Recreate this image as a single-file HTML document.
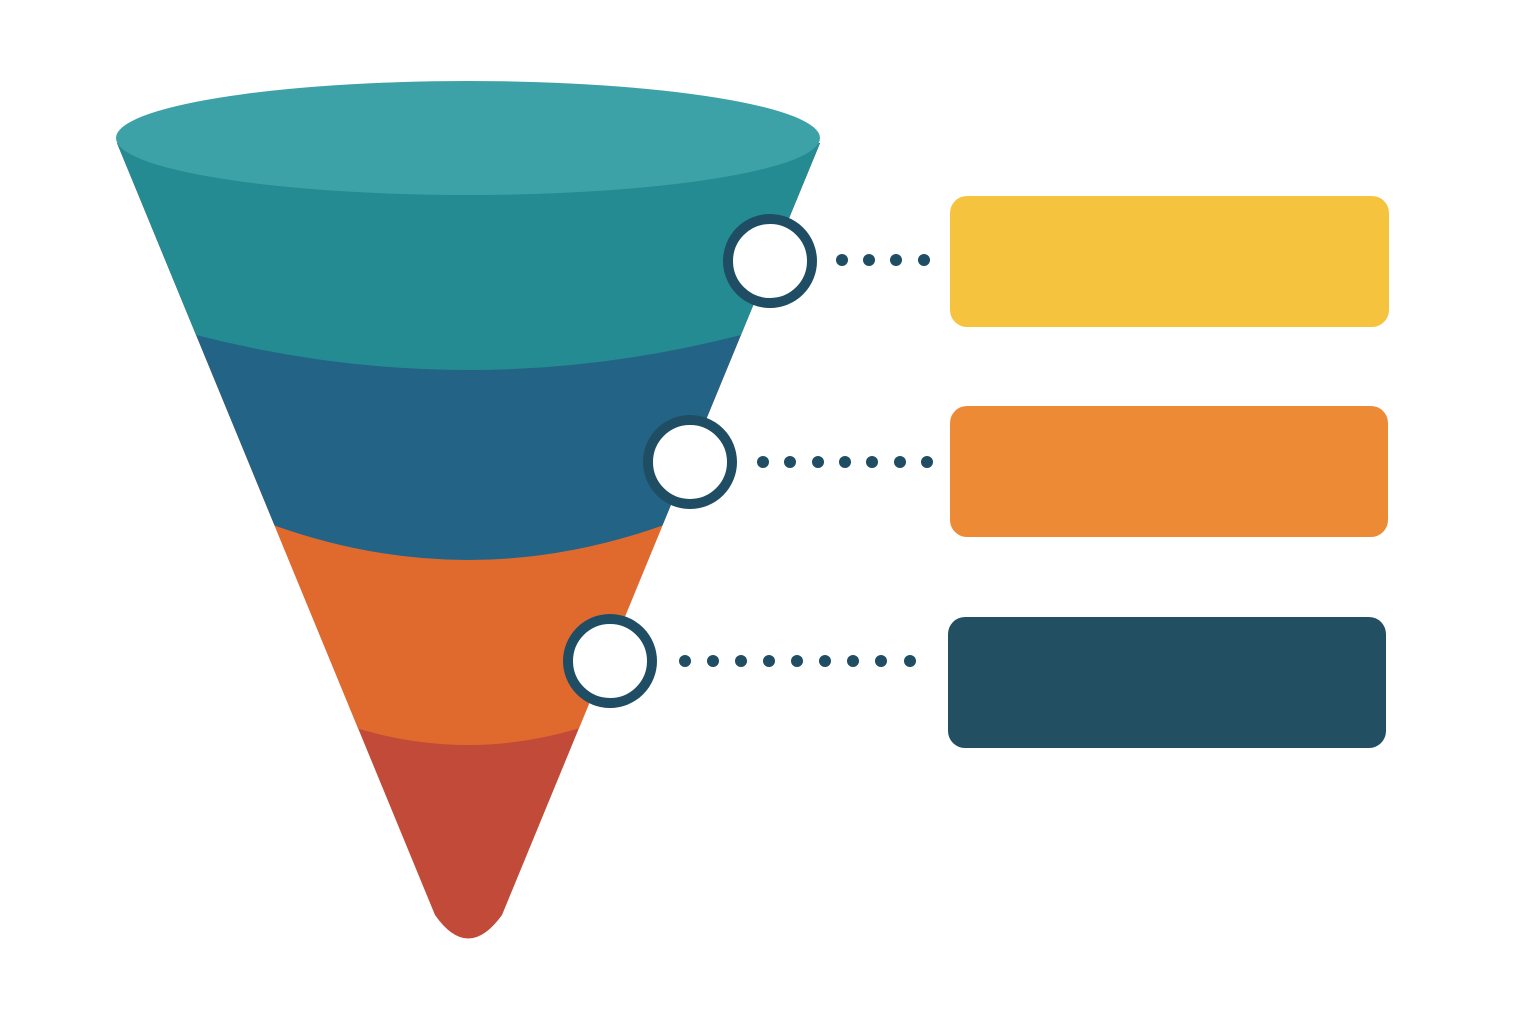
<!DOCTYPE html>
<html><head><meta charset="utf-8"><style>html,body{margin:0;padding:0;background:#fff}svg{display:block}</style></head>
<body>
<svg width="1536" height="1024" viewBox="0 0 1536 1024" xmlns="http://www.w3.org/2000/svg">
<defs>
<clipPath id="cone"><path d="M117,143 L435,915 Q468,962 502,915 L820,143 Z"/></clipPath>
</defs>
<g clip-path="url(#cone)">
<rect x="0" y="0" width="1536" height="1024" fill="#c24a38"/>
<path d="M0,728 L356,728 Q468,762 580,728 L1536,728 L1536,0 L0,0 Z" fill="#e06a2e"/>
<path d="M0,525 L273,525 Q468,595 664,525 L1536,525 L1536,0 L0,0 Z" fill="#236385"/>
<path d="M0,335 L196,335 Q468,405 741,335 L1536,335 L1536,0 L0,0 Z" fill="#248b92"/>
</g>
<ellipse cx="468" cy="138" rx="352" ry="57" fill="#3da2a8"/>
<g fill="#fff" stroke="#1f4d63" stroke-width="10">
<circle cx="770" cy="261" r="42"/>
<circle cx="690" cy="462" r="42"/>
<circle cx="610" cy="661" r="42"/>
</g>
<g fill="#1f4d63">
<circle cx="842" cy="260" r="6"/><circle cx="869" cy="260" r="6"/><circle cx="896" cy="260" r="6"/><circle cx="924" cy="260" r="6"/>
<circle cx="763" cy="462" r="6"/><circle cx="790" cy="462" r="6"/><circle cx="818" cy="462" r="6"/><circle cx="845" cy="462" r="6"/><circle cx="872" cy="462" r="6"/><circle cx="900" cy="462" r="6"/><circle cx="927" cy="462" r="6"/>
<circle cx="685" cy="661" r="6"/><circle cx="713" cy="661" r="6"/><circle cx="741" cy="661" r="6"/><circle cx="769" cy="661" r="6"/><circle cx="797" cy="661" r="6"/><circle cx="825" cy="661" r="6"/><circle cx="853" cy="661" r="6"/><circle cx="881" cy="661" r="6"/><circle cx="910" cy="661" r="6"/>
</g>
<rect x="950" y="196" width="439" height="131" rx="17" fill="#f5c33e"/>
<rect x="950" y="406" width="438" height="131" rx="17" fill="#ec8a35"/>
<rect x="948" y="617" width="438" height="131" rx="17" fill="#234f62"/>
</svg>
</body></html>
